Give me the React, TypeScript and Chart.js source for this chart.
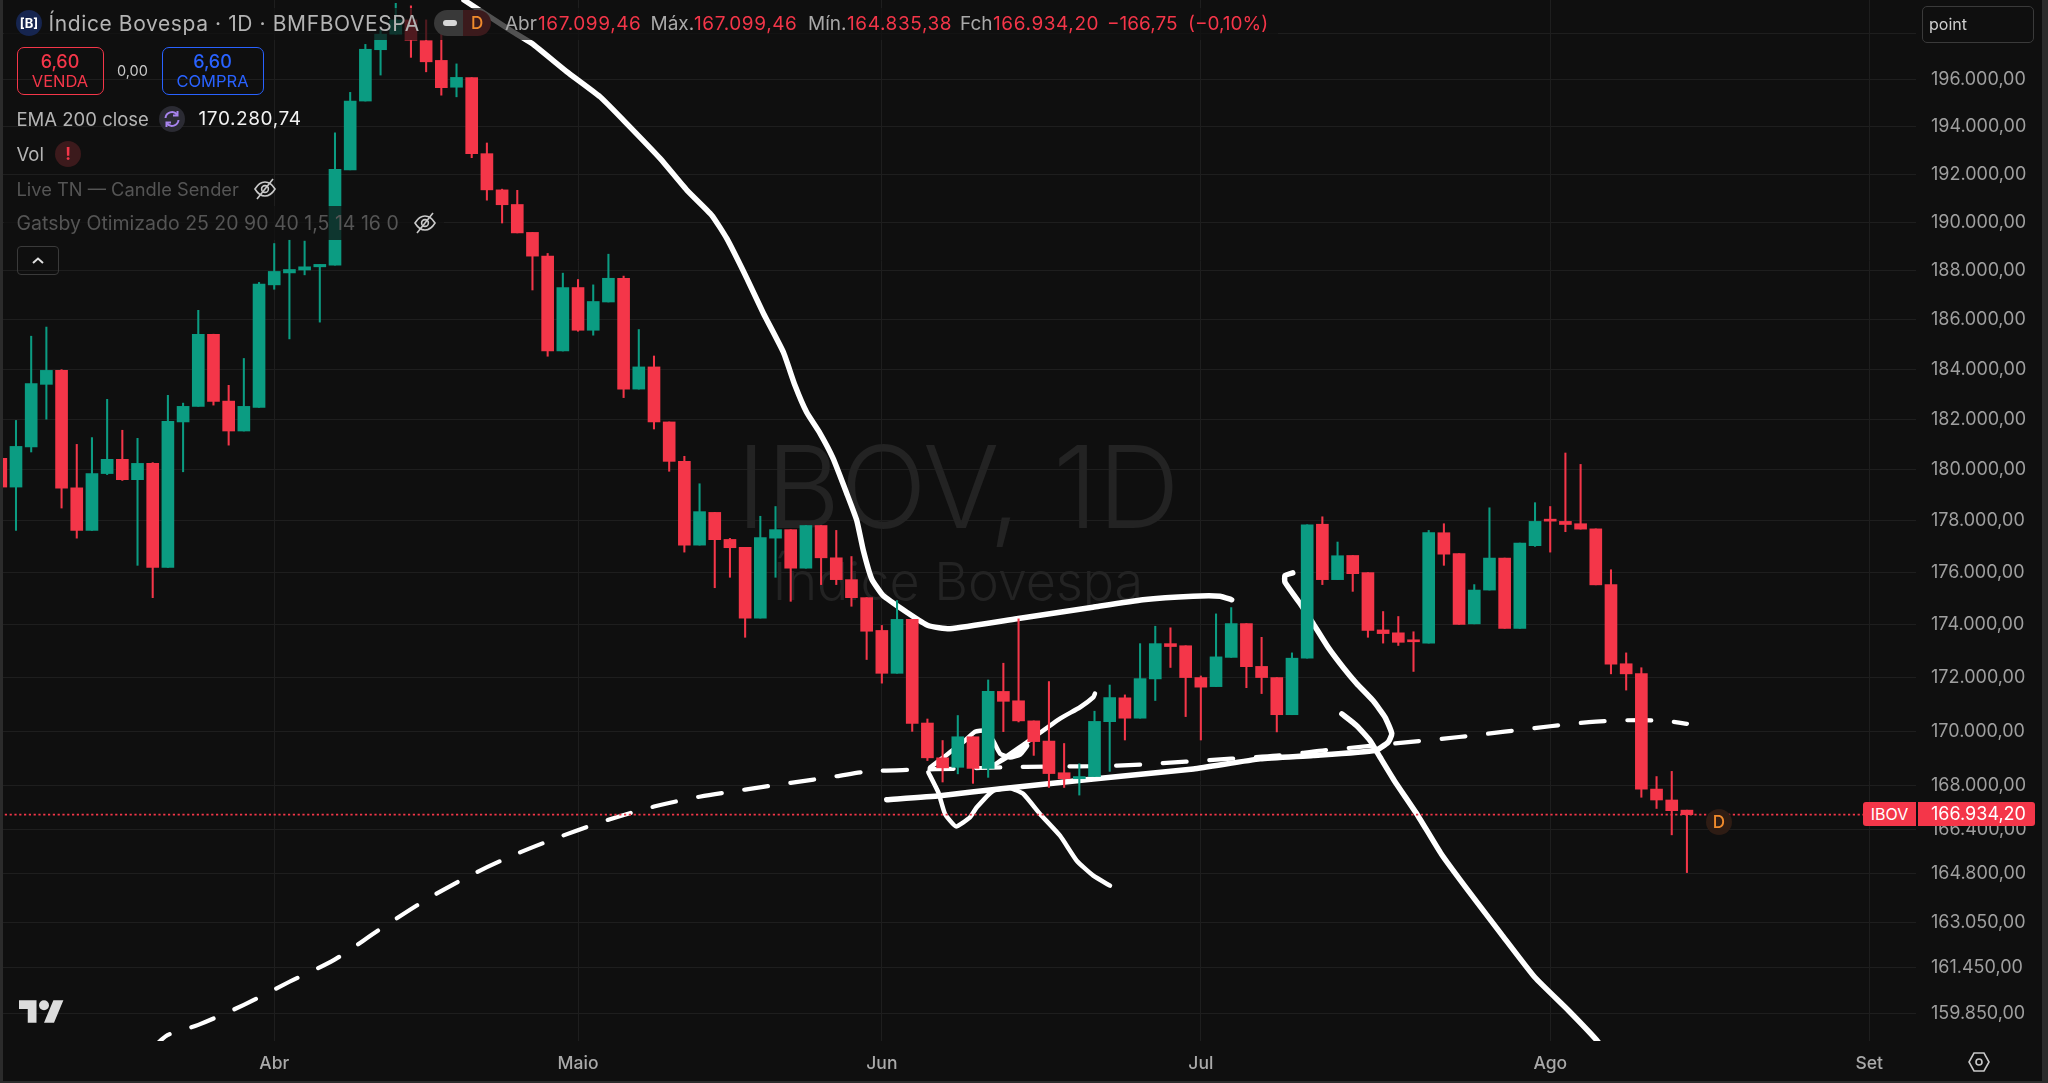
import React, { useEffect, useRef } from "react";
import { Chart, registerables } from "chart.js";

Chart.register(...registerables);

const opens = [
  180450,179320,180900,183390,183950,179290,177630,179850,180410,179610,
  180250,176200,181890,182510,185410,182720,181530,182470,187420,187910,
  188030,188160,188230,192190,195100,197300,197970,198590,197690,196840,
  195690,196100,192870,191350,190740,189580,188600,184730,187310,185570,
  186720,187690,183200,184090,181890,180330,177060,178330,177280,176970,
  174260,177330,177660,176170,177820,176570,175730,175040,173790,172170,
  174210,170310,169020,168670,169800,168630,171490,171140,170390,169640,
  168470,168250,168330,170360,171250,170490,171960,173290,173210,172010,
  171670,172770,174050,172430,172010,170620,172740,177870,175730,176660,
  176000,173810,173700,173400,173310,177540,176730,174040,175330,176560,
  173870,177040,178040,177980,177890,177690,175540,172530,172160,167870,
  167470,167099.46,
];
const highs = [
  180450,181950,185330,185700,183980,181000,181270,182790,181560,181240,
  180280,182950,182640,186380,185410,183350,184430,187520,189120,189260,
  189220,188260,193750,195470,197530,198150,199310,199200,198590,198680,
  196690,196100,193320,191380,191330,189580,188710,187900,187640,187420,
  188680,187780,185600,184530,181890,180530,179450,178330,177320,176970,
  178180,178560,177660,177820,177820,177630,176620,175040,173980,174930,
  174210,170460,169660,170590,169800,171920,172550,174230,170390,171860,
  169550,168800,170750,171730,171360,173290,173950,173890,173210,172070,
  174420,174660,174050,173530,172010,172940,177850,178160,177180,176660,
  176000,174510,174320,173740,177630,177890,176730,175540,178510,176560,
  177140,178710,178560,180660,180210,177690,176110,172940,172380,168330,
  168520,167099.46,
];
const lows = [
  179320,177630,180700,182000,178500,177330,177630,179810,179580,176280,
  175040,176200,179920,182510,182560,180970,181530,182470,187240,185220,
  187830,185900,188230,192190,195100,196210,197970,196970,196350,195350,
  195280,192700,190920,189970,189560,187210,184520,184730,185530,185370,
  186720,182860,183200,181610,179940,176790,177060,175420,175820,173530,
  174260,175820,174900,176170,175540,175540,174710,172690,171800,172170,
  170000,168920,168130,168430,168080,168300,169990,170350,169110,167930,
  167930,167650,168330,168520,169680,170490,171150,172390,170550,169680,
  171670,172770,171630,171410,169980,170620,172740,175540,175730,175280,
  173530,173310,173220,172240,173310,176280,174020,174040,175330,173870,
  173870,177010,176790,177580,177680,175530,172150,171540,167570,167160,
  166200,164835.38,
];
const closes = [
  179320,180920,183420,183950,179280,177630,179850,180410,179610,180250,
  176200,181910,182510,185410,182710,181530,182510,187450,187970,188050,
  188160,188260,192210,195100,197320,197970,198590,197710,196780,195670,
  196110,192870,191350,190730,189560,188600,184730,187310,185570,186740,
  187690,183200,184090,181890,180330,177060,178360,177270,176960,174260,
  177350,177660,176170,177820,176570,175730,175040,173760,172170,174210,
  170300,169020,168650,169800,168630,171490,171120,170390,169620,168440,
  168250,168330,170370,171260,170490,171970,173290,173180,172010,171650,
  172790,174050,172420,172010,170620,172740,177850,175730,176650,175960,
  173790,173670,173340,173360,177550,176710,174020,175330,176560,173870,
  177140,177980,177990,177860,177680,175530,172510,172150,167870,167470,
  167080,166934.2,
];

const emaBars = [10,11,13,16,19,22,25,28,31,34,37,40,43,46,49,52,55,57,60,63,66,69,72,75,78,81,84,87,90,93,96,99,102,105,108,110,111];
const emaValues = [158640,159090,159440,160140,160950,161740,162820,163860,164760,165520,166170,166750,167230,167590,167850,168100,168340,168510,168580,168620,168670,168700,168710,168770,168880,168990,169100,169290,169450,169620,169790,169990,170190,170360,170420,170360,170280.74];

const trendBars = [30.49,33.52,34.95,37.26,39.45,40.98,43.4,45.16,46.8,47.79,49.11,50.2,51.51,52.28,53.05,53.93,54.79,55.69,56.35,56.78,57.33,58.08,59.64,61.04,62.49,66.88,71.9,75.19,78.49,80.26,81.03];
const trendPrices = [199455,198152,197577,196353,195282,194290,192671,191342,190297,189330,187693,186262,184693,183352,182272,181437,180447,179071,178016,176855,175761,175123,174485,173978,173853,174233,174676,174959,175096,175096,174959];

const hookBars = [85.05,84.54,84.54,85.53,86.39,87.37,88.36,89.26,90.33,91.13,91.57,91.33,90.47,86.39,82.9,78.51,71.92,66,61.83,58.32];
const hookPrices = [175990,175887,175631,174817,174053,173156,172398,171784,171148,170524,169917,169595,169288,169103,168981,168611,168241,167894,167628,167482];

const fallBars = [88.28,89.26,90.14,90.8,91.74,93.29,94.83,96.6,98.78,101,103.17,105.15,106.07];
const fallPrices = [170651,170213,169658,169040,168178,166898,165505,164184,162635,161098,159960,158850,158017];

const dipBars = [61.06,61.72,62.16,62.88,63.8,64.25,65.34,66.44,67.32,68.41,69.73,70.83,71.92,73.02];
const dipPrices = [168485,167748,166960,166507,166836,167201,167810,167909,167690,166960,166168,165264,164724,164364];

const riseBars = [61.17,62.03,63.48,64.13,64.79,65.32,65.78,66.44,67.1,67.56,65.32,67.54,69.73,71.05,71.92,72.03];
const risePrices = [168659,169029,169658,169987,170026,169658,169177,169029,169140,169473,168733,169595,170475,170898,171272,171410];

const priceTicks = [198000,196000,194000,192000,190000,188000,186000,184000,182000,180000,178000,176000,174000,172000,170000,168000,166400,164800,163050,161450,159850];
const hiddenPriceTick = 198000;
const monthBars = [18,38,58,79,102,123];
const monthNames = ["Abr","Maio","Jun","Jul","Ago","Set"];
const lastClose = 166934.2;
const barFirst = -0.053;
const barLast = 126.08;
const priceMin = 158880;
const priceMax = 199455;

const GREEN = "#0b9c82";
const RED = "#f43649";
const BG = "#0f0f0f";
const GRID = "#1e1e1e";
const WHITE = "#ffffff";
const UI = "Inter, 'Liberation Sans', sans-serif";

const fmt = (v: number) =>
  v.toFixed(2).replace(".", ",").replace(/\B(?=(\d{3})+(?!\d))/g, ".");

const zip = (xs: number[], ys: number[]) => xs.map((x, i) => ({ x, y: ys[i] }));

const stroke = (xs: number[], ys: number[], width = 5.5) => ({
  type: "line" as const,
  data: zip(xs, ys),
  borderColor: WHITE,
  borderWidth: width,
  borderCapStyle: "round" as const,
  borderJoinStyle: "round" as const,
  pointRadius: 0,
  tension: 0.15,
  order: 3,
});

const watermark = {
  id: "watermark",
  beforeDatasetsDraw(chart: any) {
    const { ctx, chartArea } = chart;
    const cx = (chartArea.left + chartArea.right) / 2;
    ctx.save();
    ctx.fillStyle = "#232323";
    ctx.textAlign = "center";
    ctx.textBaseline = "alphabetic";
    ctx.font = `300 114px ${UI}`;
    ctx.fillText("IBOV, 1D", cx, 528);
    ctx.font = `300 52px ${UI}`;
    ctx.fillText("Índice Bovespa", cx, 600);
    ctx.restore();
  },
};

const abs = (left: number, top: number, extra: React.CSSProperties = {}): React.CSSProperties => ({
  position: "absolute",
  left,
  top,
  whiteSpace: "nowrap",
  ...extra,
});

const Label = ({ x, y, color, size = 18, children, weight = 400, spacing = 0 }: any) => (
  <div style={abs(x, y, { color, fontSize: size, fontWeight: weight, letterSpacing: spacing, lineHeight: "24px", height: 24, marginTop: -12 })}>{children}</div>
);

const EyeOff = ({ x, y }: { x: number; y: number }) => (
  <svg style={abs(x - 13, y - 13)} width={26} height={26} viewBox="0 0 26 26" fill="none" stroke="#c9c9c9" strokeWidth={1.6}>
    <path d="M3 13c3-5 6.5-7 10-7s7 2 10 7c-3 5-6.5 7-10 7s-7-2-10-7z" />
    <circle cx="13" cy="13" r="3.4" />
    <path d="M21 3 5 23" />
  </svg>
);

export default function App() {
  const ref = useRef<HTMLCanvasElement | null>(null);
  useEffect(() => {
    if (!ref.current) return;
    const idx = opens.map((_, i) => i);
    const colors = idx.map((i) => (closes[i] >= opens[i] && i !== 111 ? GREEN : RED));
    const chart = new Chart(ref.current, {
      type: "bar",
      data: {
        datasets: [
          {
            type: "line",
            data: [{ x: barFirst, y: lastClose }, { x: barLast, y: lastClose }],
            borderColor: RED,
            borderWidth: 1.6,
            borderDash: [2.2, 2.6],
            pointRadius: 0,
            order: 2,
          },
          stroke(trendBars, trendPrices),
          stroke(hookBars, hookPrices),
          stroke(fallBars, fallPrices),
          stroke(dipBars, dipPrices, 4.5),
          stroke(riseBars, risePrices, 4.5),
          {
            type: "line",
            data: zip(emaBars, emaValues),
            borderColor: WHITE,
            borderWidth: 4.2,
            borderCapStyle: "round",
            borderDash: [24, 22.67],
            borderDashOffset: 2,
            pointRadius: 0,
            tension: 0.3,
            order: 3,
          },
          {
            type: "bar",
            data: idx.map((i) => ({ x: i, y: [lows[i], highs[i]] })),
            backgroundColor: colors,
            barThickness: 1.4,
            grouped: false,
            order: 1,
          },
          {
            type: "bar",
            data: idx.map((i) => ({ x: i, y: [Math.min(opens[i], closes[i]), Math.max(opens[i], closes[i])] })),
            backgroundColor: colors,
            barThickness: 12,
            minBarLength: 2,
            grouped: false,
            order: 0,
          },
        ] as any,
      },
      options: {
        responsive: false,
        animation: false,
        devicePixelRatio: 1,
        layout: { padding: 0 },
        plugins: { legend: { display: false }, tooltip: { enabled: false } },
        scales: {
          x: {
            type: "linear",
            min: barFirst,
            max: barLast,
            offset: false,
            grid: { color: GRID, lineWidth: 1, drawTicks: false, offset: false },
            border: { display: false },
            afterBuildTicks: (s: any) => {
              s.ticks = monthBars.map((value) => ({ value }));
            },
            afterFit: (s: any) => {
              s.height = 42;
              s.paddingLeft = 0;
              s.paddingRight = 0;
            },
            ticks: {
              autoSkip: false,
              maxRotation: 0,
              padding: 12,
              color: "#a9a9a9",
              font: { family: UI, size: 17.5, weight: 500 },
              callback: (v: any) => monthNames[monthBars.indexOf(Number(v))] ?? "",
            },
          },
          y: {
            type: "logarithmic",
            position: "right",
            min: priceMin,
            max: priceMax,
            grid: { color: GRID, lineWidth: 1, drawTicks: false },
            border: { display: false },
            afterBuildTicks: (s: any) => {
              s.ticks = priceTicks.map((value) => ({ value }));
            },
            afterFit: (s: any) => {
              s.width = 132;
              s.paddingTop = 0;
              s.paddingBottom = 0;
            },
            ticks: {
              autoSkip: false,
              padding: 15,
              color: "#9f9f9f",
              font: { family: UI, size: 18 },
              callback: (v: any) => (Number(v) === hiddenPriceTick ? "" : fmt(Number(v))),
            },
          },
        },
      } as any,
      plugins: [watermark],
    });
    return () => chart.destroy();
  }, []);

  return (
    <div style={{ position: "relative", width: 2048, height: 1083, overflow: "hidden", background: BG, fontFamily: UI }}>
      <style>{"html,body{margin:0;padding:0;background:#0f0f0f;overflow:hidden}"}</style>
      <canvas ref={ref} width={2048} height={1083} style={{ display: "block", position: "absolute", left: 0, top: 0 }} />

      {/* translucent rows of the legend */}
      <div style={abs(4, 8, { width: 1274, height: 32, background: "rgba(15,15,15,0.72)" })} />
      <div style={abs(4, 206, { width: 440, height: 34, background: "rgba(15,15,15,0.72)" })} />

      {/* title row */}
      <div style={abs(16, 10, { width: 26, height: 26, borderRadius: 13, background: "#16254f", color: "#fff", fontSize: 13, fontWeight: 700, lineHeight: "26px", textAlign: "center" })}>[B]</div>
      <Label x={48.5} y={24} color="#b4b4b4" size={21} spacing={0.6}>Índice Bovespa · 1D · BMFBOVESPA</Label>
      <div style={abs(434, 10, { width: 29, height: 26, background: "#393939", borderRadius: "13px 0 0 13px" })} />
      <div style={abs(463, 10, { width: 28, height: 26, background: "#3b1a1c", borderRadius: "0 13px 13px 0" })} />
      <div style={abs(443, 20, { width: 14, height: 6, background: "#d8d8d8", borderRadius: 3 })} />
      <Label x={471} y={23} color="#f08a2c" size={17} weight={500}>D</Label>
      <Label x={505} y={24} color="#a9a9a9" size={19}>Abr</Label>
      <Label x={538} y={24} color={RED} size={19} spacing={0.6}>167.099,46</Label>
      <Label x={650.5} y={24} color="#a9a9a9" size={19}>Máx.</Label>
      <Label x={694} y={24} color={RED} size={19} spacing={0.6}>167.099,46</Label>
      <Label x={808} y={24} color="#a9a9a9" size={19}>Mín.</Label>
      <Label x={847} y={24} color={RED} size={19} spacing={0.6}>164.835,38</Label>
      <Label x={960} y={24} color="#a9a9a9" size={19}>Fch</Label>
      <Label x={993} y={24} color={RED} size={19} spacing={0.6}>166.934,20</Label>
      <Label x={1107} y={24} color={RED} size={19}>−166,75</Label>
      <Label x={1188} y={24} color={RED} size={19}>(−0,10%)</Label>

      {/* trade buttons */}
      <div style={abs(16.5, 46.5, { width: 85, height: 46, border: `1.5px solid ${RED}`, borderRadius: 7, color: RED, textAlign: "center" })}>
        <div style={{ fontSize: 18, fontWeight: 500, lineHeight: "20px", marginTop: 4 }}>6,60</div>
        <div style={{ fontSize: 16.5, lineHeight: "19px" }}>VENDA</div>
      </div>
      <Label x={117} y={71} color="#c9c9c9" size={14.5}>0,00</Label>
      <div style={abs(161.5, 46.5, { width: 100, height: 46, border: "1.5px solid #2962ff", borderRadius: 7, color: "#2962ff", textAlign: "center" })}>
        <div style={{ fontSize: 18, fontWeight: 500, lineHeight: "20px", marginTop: 4 }}>6,60</div>
        <div style={{ fontSize: 16.5, lineHeight: "19px" }}>COMPRA</div>
      </div>

      {/* indicator rows */}
      <Label x={16.5} y={119} color="#b4b4b4" size={18.5}>EMA 200 close</Label>
      <svg style={abs(159, 106)} width={26} height={26} viewBox="0 0 26 26" fill="none">
        <circle cx="13" cy="13" r="13" fill="#2b2b33" />
        <path d="M6.5 12a6.5 6.5 0 0 1 11.5-3.5M19.5 14a6.5 6.5 0 0 1-11.5 3.5" stroke="#a884ee" strokeWidth="2" />
        <path d="M18.5 5v4.5H14M7.5 21v-4.5H12" stroke="#a884ee" strokeWidth="2" />
      </svg>
      <Label x={198.5} y={119} color="#f2f2f2" size={19} spacing={0.6}>170.280,74</Label>
      <Label x={16.5} y={154} color="#b4b4b4" size={18.5}>Vol</Label>
      <div style={abs(55, 141, { width: 26, height: 26, borderRadius: 13, background: "#3c1a1c", color: RED, fontSize: 17, fontWeight: 700, lineHeight: "26px", textAlign: "center" })}>!</div>
      <Label x={16.5} y={189} color="#555555" size={18.3}>Live TN — Candle Sender</Label>
      <EyeOff x={264.5} y={189} />
      <Label x={16.5} y={223} color="#555555" size={19.5}>Gatsby Otimizado 25 20 90 40 1,5 14 16 0</Label>
      <EyeOff x={425} y={223} />
      <div style={abs(16.5, 245.5, { width: 40, height: 27, border: "1.5px solid #3a3a3a", borderRadius: 4 })}>
        <svg width={40} height={27} viewBox="0 0 40 27" fill="none" stroke="#e0e0e0" strokeWidth={2}>
          <path d="M15 16l5-4.5 5 4.5" />
        </svg>
      </div>

      {/* price tag on the axis */}
      <div style={abs(1863, 802, { width: 53, height: 24, background: RED, borderRadius: "3px 0 0 3px", color: "#fff", fontSize: 16, lineHeight: "24px", textAlign: "center" })}>IBOV</div>
      <div style={abs(1918, 802, { width: 117, height: 24, background: RED, borderRadius: "0 3px 3px 0", color: "#fff", fontSize: 18, lineHeight: "24px" })}>
        <span style={{ marginLeft: 13 }}>{fmt(lastClose)}</span>
      </div>
      <div style={abs(1706, 809, { width: 26, height: 26, borderRadius: 13, background: "#2e1c14", color: "#f08a2c", fontSize: 17, fontWeight: 500, lineHeight: "26px", textAlign: "center" })}>D</div>

      {/* symbol box */}
      <div style={abs(1922, 6, { width: 110, height: 35, border: "1.5px solid #3a3a3a", borderRadius: 5, color: "#cfcfcf", fontSize: 16, lineHeight: "35px", boxSizing: "content-box" })}>
        <span style={{ marginLeft: 6 }}>point</span>
      </div>

      {/* logo and settings icon */}
      <svg style={abs(19, 995)} width={45} height={28} viewBox="0 0 36 22" fill="#dcdcdc">
        <path d="M14 22H7V11H0V4h14v18zM28 22h-8l7.5-18h8L28 22z" />
        <circle cx="20" cy="8" r="4" />
      </svg>
      <svg style={abs(1967, 1050)} width={24} height={24} viewBox="0 0 24 24" fill="none" stroke="#c9c9c9" strokeWidth={1.6}>
        <path d="M7 3h10l5 9-5 9H7l-5-9z" />
        <circle cx="12" cy="12" r="3" />
      </svg>

      {/* frame of the window */}
      <div style={abs(0, 0, { width: 3, height: 1083, background: "#2b2b2b" })} />
      <div style={abs(2042, 0, { width: 6, height: 1083, background: "#2b2b2b" })} />
      <div style={abs(0, 1081, { width: 2048, height: 2, background: "#2b2b2b" })} />
    </div>
  );
}
